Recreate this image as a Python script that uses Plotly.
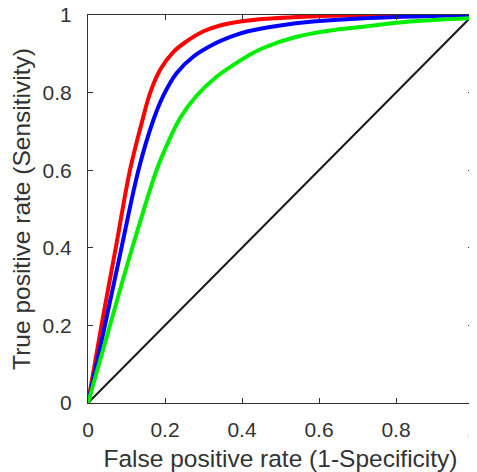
import plotly.graph_objects as go

# ROC curves
red_fpr = [0, 0.035, 0.074, 0.109, 0.139, 0.161, 0.187, 0.222, 0.256, 0.30, 0.343, 0.416, 0.594, 0.8, 1.0]
red_tpr = [0, 0.2, 0.41, 0.6, 0.72, 0.798, 0.858, 0.905, 0.932, 0.958, 0.973, 0.986, 0.997, 1.0, 1.0]

blue_fpr = [0, 0.044, 0.087, 0.131, 0.170, 0.196, 0.230, 0.274, 0.325, 0.377, 0.416, 0.499, 0.584, 0.706, 1.0]
blue_tpr = [0, 0.2, 0.4, 0.6, 0.73, 0.793, 0.850, 0.893, 0.924, 0.946, 0.958, 0.973, 0.983, 0.991, 1.0]

green_fpr = [0, 0.057, 0.115, 0.178, 0.205, 0.239, 0.282, 0.334, 0.377, 0.416, 0.455, 0.542, 0.629, 0.706, 0.836, 1.0]
green_tpr = [0, 0.2, 0.4, 0.6, 0.665, 0.734, 0.792, 0.841, 0.871, 0.895, 0.915, 0.944, 0.960, 0.969, 0.983, 0.992]

diag = [0, 1]

tick_vals = [0, 0.2, 0.4, 0.6, 0.8, 1]
tick_text = ["0", "0.2", "0.4", "0.6", "0.8", "1"]

fig = go.Figure()
fig.add_trace(go.Scatter(x=diag, y=diag, mode='lines', line=dict(color='#1a1a1a', width=2), cliponaxis=False))
for fx, ty, col in [(red_fpr, red_tpr, '#ff0000'), (blue_fpr, blue_tpr, '#0000ff'), (green_fpr, green_tpr, '#00ee00')]:
    fig.add_trace(go.Scatter(x=fx, y=ty, mode='lines', cliponaxis=False,
                             line=dict(color=col, width=4, shape='spline', smoothing=1.0)))

axis_style = dict(range=[0, 1], tickvals=tick_vals, ticktext=tick_text, showgrid=False, zeroline=False,
                  showline=True, linecolor='#333333', linewidth=1, mirror='ticks', ticks='inside',
                  ticklen=5, tickcolor='#333333', tickfont=dict(size=21, color='#333333'),
                  ticklabeloverflow='allow', automargin=False)

# page body has an 8px margin, so the figure is sized to land where the reference plot is
fig.update_layout(
    width=477, height=464,
    margin=dict(l=80, r=12, t=7, b=69),
    paper_bgcolor='white', plot_bgcolor='white',
    showlegend=False,
    font=dict(family='Liberation Sans, Arial, sans-serif', color='#333333'),
    xaxis=dict(axis_style, ticklabelstandoff=8,
               title=dict(text='False positive rate (1-Specificity)', font=dict(size=24.5))),
    yaxis=dict(axis_style, ticklabelstandoff=11,
               title=dict(text='True positive rate (Sensitivity)', font=dict(size=24.5))),
)

fig.write_html("out.html")
